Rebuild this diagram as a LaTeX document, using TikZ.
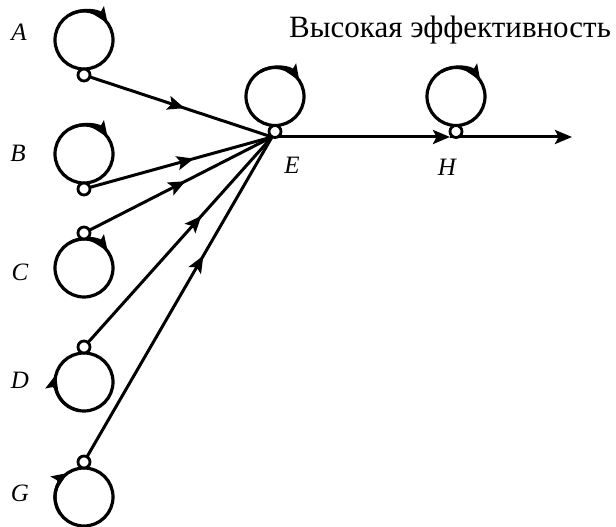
\documentclass[tikz,border=0pt]{standalone}
\usepackage{fontspec}
\setmainfont{Liberation Serif}
\usetikzlibrary{arrows.meta,decorations.markings}
\begin{document}
\begin{tikzpicture}[x=1pt,y=1pt,
  big/.style={circle,draw,line width=3.2pt,minimum size=58pt,inner sep=0pt,outer sep=0pt},
  small/.style={circle,draw,fill=white,line width=2.8pt,minimum size=12pt,inner sep=0pt},
  conn/.style={line width=3pt},
  tipa/.style={line width=3.2pt,-{Stealth[length=16pt,width=13pt,inset=3pt]}},
  midarrow/.style={postaction={decorate,decoration={markings,
      mark=at position #1 with {\arrow{Stealth[length=17pt,width=14pt,inset=3.5pt]}}}}},
  lbl/.style={font=\fontsize{25}{29}\selectfont\itshape},
  ttl/.style={font=\fontsize{31}{35}\selectfont,anchor=base west,inner sep=0pt}]
\useasboundingbox (0,0) rectangle (616,527);
% big circles
\node[big] (ca) at (84,487) {};
\node[big] (cb) at (84,373) {};
\node[big] (cc) at (84,259) {};
\node[big] (cd) at (84,145) {};
\node[big] (cg) at (84,30) {};
\node[big] (ce) at (275,430.5) {};
\node[big] (ch) at (456,430.5) {};
% arrows on circles
\draw[tipa] (ca.120) arc[start angle=120,end angle=35,radius=29pt];
\draw[tipa] (cb.120) arc[start angle=120,end angle=35,radius=29pt];
\draw[tipa] (cc.120) arc[start angle=120,end angle=35,radius=29pt];
\draw[tipa] (ce.120) arc[start angle=120,end angle=33,radius=29pt];
\draw[tipa] (ch.120) arc[start angle=120,end angle=33,radius=29pt];
\draw[tipa] (cd.260) arc[start angle=260,end angle=165,radius=29pt];
\draw[tipa] (cg.215) arc[start angle=215,end angle=124,radius=29pt];
% junctions
\coordinate (ej) at (272,390);
\coordinate (hj) at (450,390);
\coordinate (out) at (572,390);
% connectors
\draw[conn,midarrow=0.535] (84,452) -- (ej);
\draw[conn,midarrow=0.585] (84,338) -- (ej);
\draw[conn,midarrow=0.54] (84,294) -- (ej);
\draw[conn,midarrow=0.625] (84,180) -- (ej);
\draw[conn,midarrow=0.635] (84,65) -- (ej);
\draw[conn,-{Stealth[length=17pt,width=14pt,inset=3.5pt]}] (ej) -- (hj);
\draw[conn,-{Stealth[length=17pt,width=14pt,inset=3.5pt]}] (hj) -- (out);
% small circles
\node[small] (pa) at (84,452) {};
\node[small] (pb) at (84,338) {};
\node[small] (pc) at (84,294) {};
\node[small] (pd) at (84,180) {};
\node[small] (pg) at (84,65) {};
\node[small] (pe) at (275,395.5) {};
\node[small] (ph) at (456,395.5) {};
% labels
\node[lbl] (la) at (19,495) {A};
\node[lbl] (lb) at (18,374) {B};
\node[lbl] (lc) at (20,255) {C};
\node[lbl] (ld) at (20,147) {D};
\node[lbl] (lg) at (20,34) {G};
\node[lbl] (le) at (292,362) {E};
\node[lbl] (lh) at (447,360) {H};
\node[ttl] (title) at (289,489) {Высокая эффективность};
\end{tikzpicture}
\end{document}
